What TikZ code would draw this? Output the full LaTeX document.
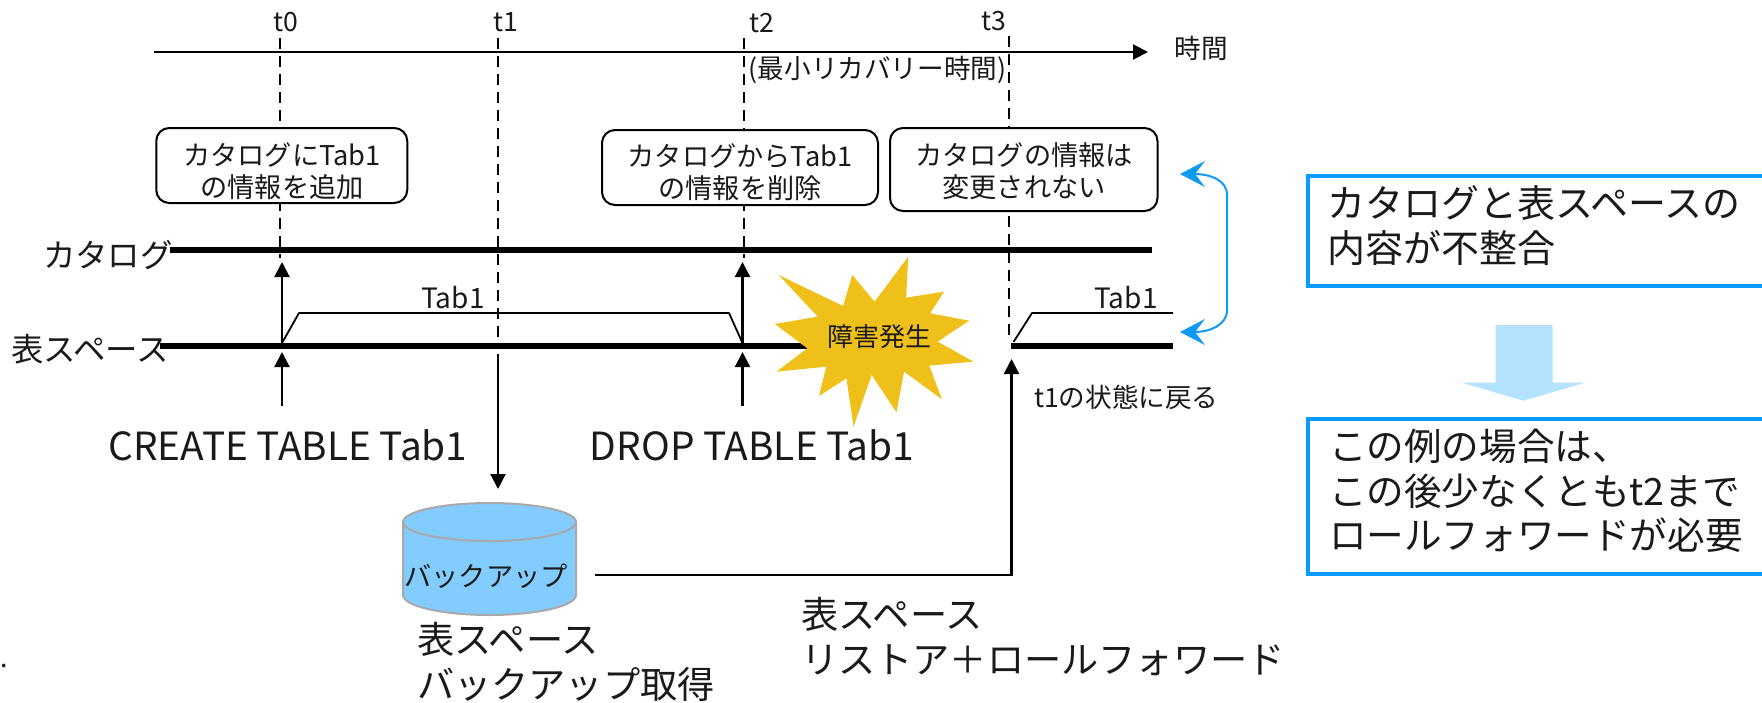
\documentclass[tikz,border=0pt]{standalone}
\usepackage{fontspec}
\setmainfont{Noto Sans CJK JP}
\usetikzlibrary{arrows.meta,shapes.geometric}
\definecolor{inkc}{HTML}{1A1A1A}
\definecolor{bluec}{HTML}{0A9BFF}
\definecolor{curvec}{HTML}{0F9AF0}
\definecolor{starc}{HTML}{F0C01A}
\definecolor{cylc}{HTML}{82CCFF}
\definecolor{cyll}{HTML}{A9A9A9}
\definecolor{downc}{HTML}{B5E3FF}
\tikzset{
 txt/.style={inner sep=0pt,outer sep=0pt,text=inkc,align=center},
 sz12/.style={font=\fontsize{13.3}{16}\selectfont},
 sz13/.style={font=\fontsize{13.6}{16}\selectfont},
 sz14/.style={font=\fontsize{14}{16}\selectfont},
 sz15/.style={font=\fontsize{16.2}{20}\selectfont},
 sz185/.style={txt,align=left,font=\fontsize{18.6}{22.5}\selectfont},
 szbox/.style={txt,align=left,font=\fontsize{19}{22.2}\selectfont},
 szboxb/.style={txt,align=left,font=\fontsize{18.8}{22.2}\selectfont},
 rbox/.style={draw=black,line width=1pt,fill=white,rounded corners=6.5pt,inner sep=0pt},
 timeline/.style={draw=black,line width=1pt,dash pattern=on 5.5pt off 3.5pt},
 thin line/.style={draw=black,line width=.9pt},
 bar/.style={draw=black,line width=2.8pt},
 arr/.style={draw=black,line width=1.05pt,-{Triangle[length=7.5pt,width=7.5pt]}},
 bluebox/.style={draw=bluec,line width=2pt},
}
\begin{document}
\begin{tikzpicture}[x=0.5pt,y=-0.5pt]
\useasboundingbox (0,0) rectangle (1762,702);
% named points
\coordinate (axisS) at (154,52); \coordinate (axisE) at (1148,52);
\coordinate (t0a) at (280,38); \coordinate (t0b) at (280,258);
\coordinate (t1a) at (498,38); \coordinate (t1b) at (498,343);
\coordinate (t2a) at (744,38); \coordinate (t2b) at (744,258);
\coordinate (t3a) at (1008.5,36); \coordinate (t3b) at (1008.5,341);
\coordinate (catS) at (170,250); \coordinate (catE) at (1152,250);
\coordinate (tsS) at (160,346); \coordinate (tsE) at (830,346);
\coordinate (ts2S) at (1011,346); \coordinate (ts2E) at (1173,346);
% time axis and dashed lines
\draw[arr] (axisS) -- (axisE);
\draw[timeline] (t0a) -- (t0b);
\draw[timeline] (t1a) -- (t1b);
\draw[timeline] (t2a) -- (t2b);
\draw[timeline] (t3a) -- (t3b);
% tick labels
\node[txt,sz12] (lt0) at (286,22) {t0};
\node[txt,sz12] (lt1) at (506,22) {t1};
\node[txt,sz12] (lt2) at (762,23) {t2};
\node[txt,sz12] (lt3) at (994,21) {t3};
\node[txt,sz12] (ltime) at (1201,48) {時間};
\node[txt,sz12] (lmin) at (877.5,70) {(最小リカバリー時間)};
% rounded boxes
\node[rbox,minimum width=125.5pt,minimum height=37.5pt] (b0) at (281.75,165.5) {};
\node[rbox,minimum width=138pt,minimum height=37.5pt] (b1) at (740,167.5) {};
\node[rbox,minimum width=133.75pt,minimum height=41.5pt] (b2) at (1023.75,169.5) {};
\node[txt,sz13] (b0t) at (282,171) {カタログにTab1\\の情報を追加};
\node[txt,sz13] (b1t) at (740,172) {カタログからTab1\\の情報を削除};
\node[txt,sz13] (b2t) at (1024,171) {カタログの情報は\\変更されない};
% row labels
\node[txt,sz15,anchor=west] (lcat) at (43,255) {カタログ};
\node[txt,sz15,anchor=west] (lts) at (11,349) {表スペース};
% bars
\draw[bar] (catS) -- (catE);
\draw[bar] (tsS) -- (tsE);
\draw[bar] (ts2S) -- (ts2E);
% Tab1 steps
\coordinate (s1) at (282,343); \coordinate (s2) at (299,313); \coordinate (s3) at (729,313); \coordinate (s4) at (742,342);
\draw[thin line,line join=round] (s1) -- (s2) -- (s3) -- (s4);
\coordinate (r1) at (1013.5,342); \coordinate (r2) at (1032,313); \coordinate (r3) at (1173,313);
\draw[thin line,line join=round] (r1) -- (r2) -- (r3);
\node[txt,sz14] (tab1a) at (453,298) {Tab1};
\node[txt,sz14] (tab1b) at (1126,298) {Tab1};
% up arrows
\coordinate (a0a) at (282,343); \coordinate (a0b) at (282,262);
\coordinate (a0c) at (282,406); \coordinate (a0d) at (282,352);
\coordinate (a2a) at (742.5,343); \coordinate (a2b) at (742.5,262);
\coordinate (a2c) at (742.5,406); \coordinate (a2d) at (742.5,352);
\draw[arr] (a0a) -- (a0b);
\draw[arr] (a0c) -- (a0d);
\draw[arr] (a2a) -- (a2b);
\draw[arr] (a2c) -- (a2d);
% t1 arrow down
\coordinate (t1c) at (498,354); \coordinate (t1d) at (498,489);
\draw[arr] (t1c) -- (t1d);
% star
\begin{scope}[shift={(580,0)},x=0.5/2.376*1pt,y=-0.5/3*1pt]
\fill[starc] (780,770)--(775,893)--(865,875)--(832,940)--(925,962)--(850,1025)--(935,1085)--(830,1097)--(860,1198)--(770,1115)--(752,1237)--(693,1125)--(650,1280)--(633,1135)--(568,1188)--(585,1100)--(467,1115)--(540,1045)--(463,972)--(565,950)--(472,825)--(625,918)--(647,825)--(700,905)--cycle;
\end{scope}
\node[txt,font=\fontsize{13}{16}\selectfont] (fail) at (879,337) {障害発生};
% commands
\node[txt,font=\fontsize{19.4}{22}\selectfont] (cr) at (288,445) {CREATE TABLE Tab1};
\node[txt,font=\fontsize{19.4}{22}\selectfont] (dr) at (752,445) {DROP TABLE Tab1};
\node[txt,sz12,anchor=west] (back) at (1034,397) {t1の状態に戻る};
% cylinder
\draw[draw=cyll,fill=cylc,line width=1pt] (403,522) -- (403,595) arc[start angle=180,end angle=0,x radius=86.5,y radius=20] -- (576,522) arc[start angle=0,end angle=-180,x radius=86.5,y radius=19] -- cycle;
\draw[draw=cyll,line width=1pt] (403,522) arc[start angle=180,end angle=0,x radius=86.5,y radius=19];
\node[txt,sz13] (bk) at (486,576) {バックアップ};
% restore arrow
\coordinate (rs) at (595,575); \coordinate (rc) at (1011.5,575); \coordinate (re) at (1011.5,359);
\draw[arr,line join=miter] (rs) -- (rc) -- (re);
% lower labels
\node[sz185,anchor=north west] (ltl) at (417,622) {表スペース\\バックアップ取得};
\node[sz185,anchor=north west] (ltr) at (801,597) {表スペース\\リストア＋ロールフォワード};
% blue curve
\coordinate (c1) at (1180,174); \coordinate (c2) at (1180,332);
\draw[draw=curvec,line width=1pt,{Stealth[length=12.5pt,width=13pt,inset=5pt]}-{Stealth[length=12.5pt,width=13pt,inset=5pt]}] (c1) .. controls (1210,174) and (1227,180) .. (1227,195) -- (1227,310) .. controls (1227,325) and (1210,332) .. (c2);
% right boxes
\draw[bluebox] (1762,176) -- (1308,176) -- (1308,286) -- (1762,286);
\draw[bluebox] (1762,419) -- (1308,419) -- (1308,574) -- (1762,574);
\node[szbox,anchor=west] (n1) at (1327,225.5) {カタログと表スペースの\\内容が不整合};
\node[szboxb,anchor=west] (n2) at (1329,491) {この例の場合は、\\この後少なくともt2まで\\ロールフォワードが必要};
\fill[downc] (1495.7,325) -- (1552.7,325) -- (1552.7,382.7) -- (1585,382.7) -- (1523.3,400.7) -- (1461.7,382.7) -- (1495.7,382.7) -- cycle;
\node[txt,sz12,anchor=west] (dot) at (1,666) {.};
\end{tikzpicture}
\end{document}
